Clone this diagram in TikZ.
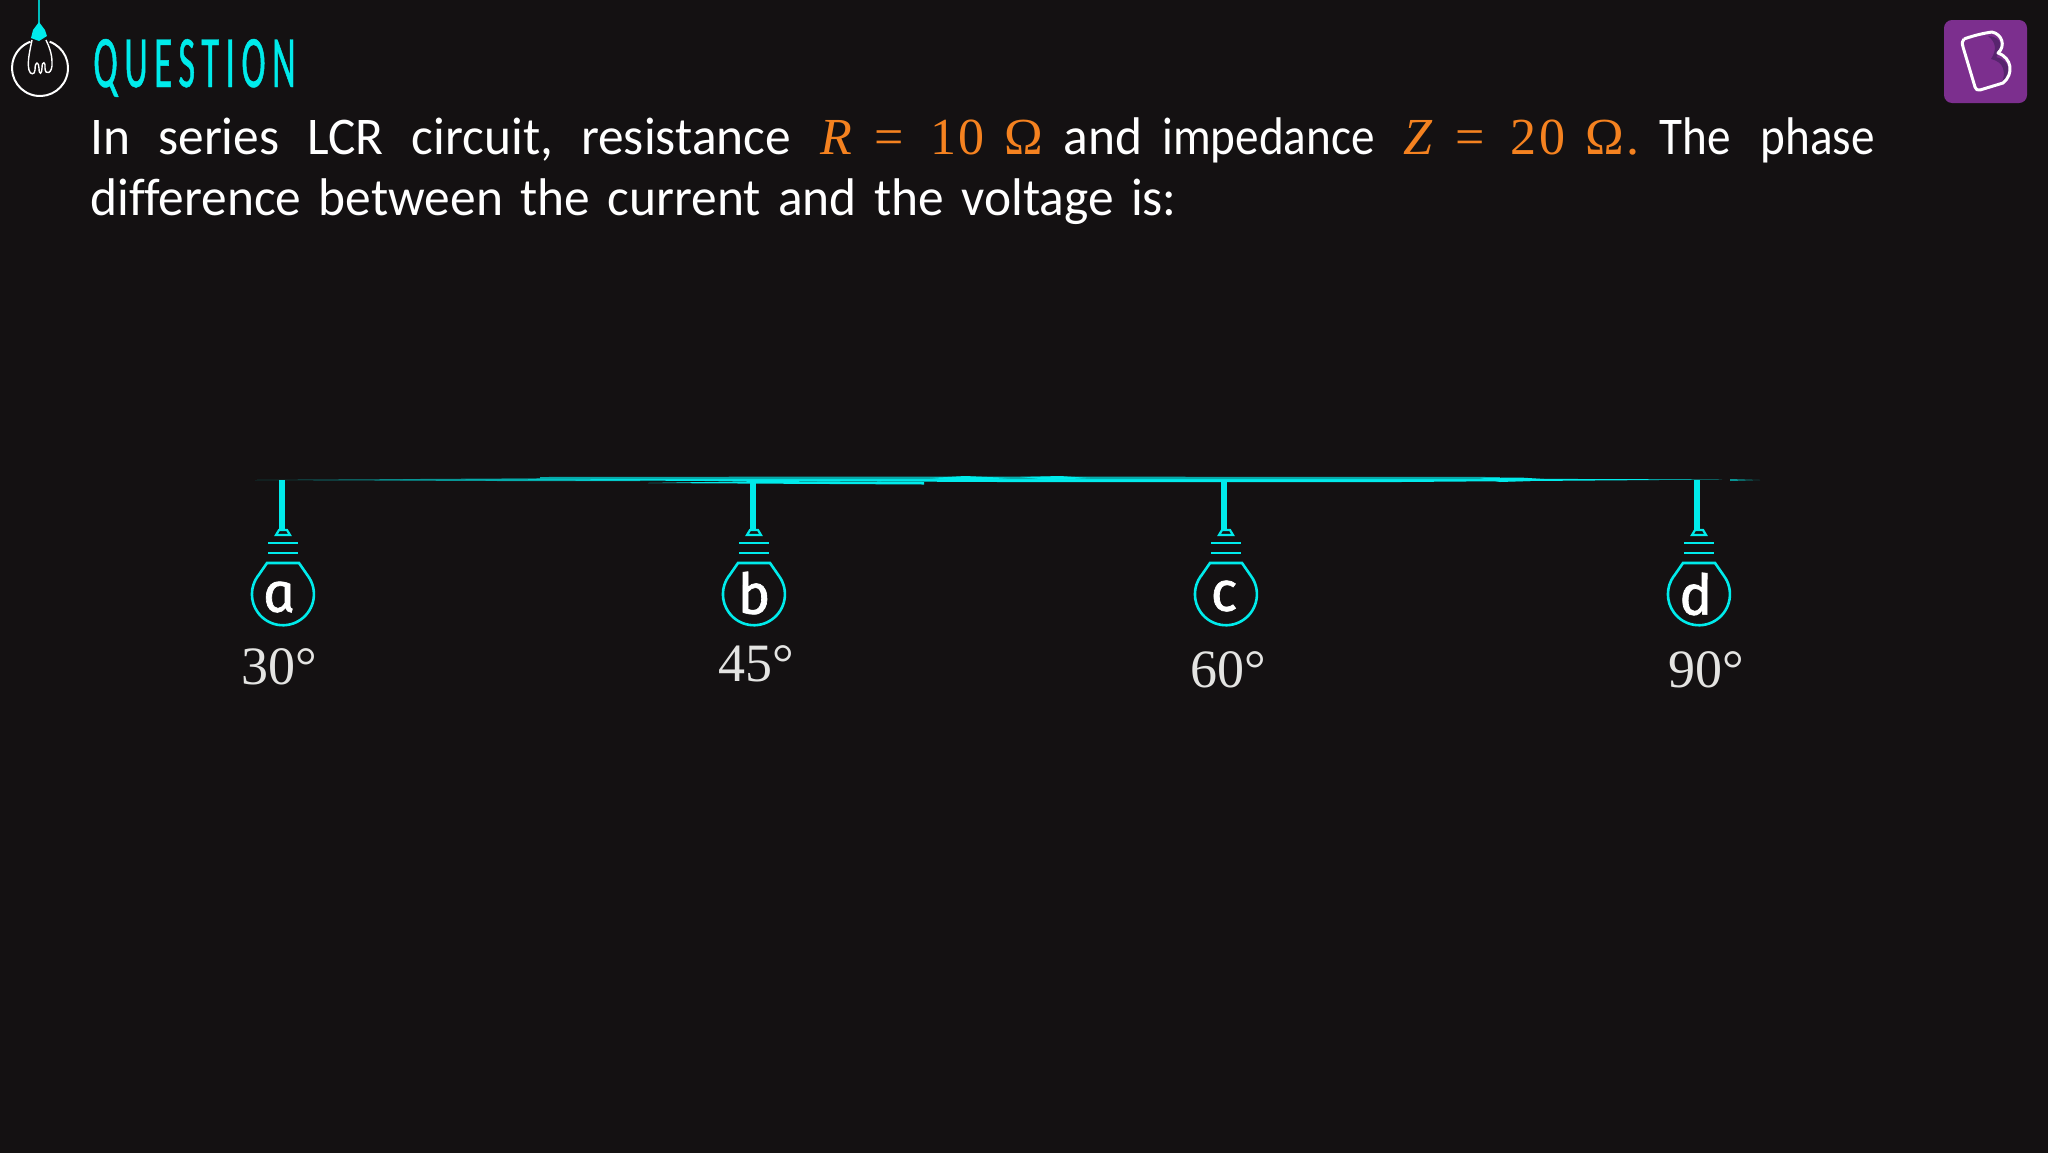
\documentclass[tikz,border=0pt]{standalone}
\usepackage{fontspec}
\setmainfont{Carlito}
\newfontfamily\titlefont[FakeStretch=0.49,LetterSpace=9,FakeBold=0.6]{Carlito}
\newfontfamily\handfont[Ligatures=NoCommon,FakeStretch=0.97]{Carlito}
\newfontfamily\tallfont[FakeStretch=0.89]{Carlito}
\newfontfamily\lawfont[LetterSpace=5]{Liberation Serif}
\newfontfamily\anglefont{Liberation Serif}
\newfontfamily\choicefont[ItalicFeatures={FakeSlant=-0.14,FakeBold=1.2}]{Fira Sans}
\newcommand\wordgap[1]{\spaceskip=#1\relax}
\definecolor{slate}{HTML}{141112}
\definecolor{aqua}{HTML}{00EBEB}
\definecolor{amber}{HTML}{F58220}
\definecolor{violet}{HTML}{7C2F8E}
\definecolor{plum}{HTML}{57246E}
\definecolor{chalk}{HTML}{E4E4E2}
\tikzset{
  question/.style={anchor=base west,inner sep=0pt,text=white,font=\handfont\fontsize{26.5}{30}\selectfont\wordgap{14pt}},
  law/.style={anchor=base west,inner sep=0pt,text=amber,font=\lawfont\fontsize{26}{30}\selectfont},
  choice/.style={inner sep=0pt,text=white,font=\choicefont\itshape\fontsize{28}{32}\selectfont},
  angle/.style={anchor=base,inner sep=0pt,text=chalk,font=\anglefont\fontsize{27}{32}\selectfont},
  rod/.style={draw=aqua,line width=3pt},
  wire/.style={draw=aqua,line width=1.3pt},
  lamp/.pic={
    \draw[wire,line width=1.1pt] (-7,-59) -- (-4,-64) -- (4,-64) -- (7,-59) -- cycle;
    \draw[wire] (-15,-51) -- (15,-51);
    \draw[wire] (-15,-41) -- (15,-41);
    \draw[wire] (-25,-18) -- (-16,-31) -- (16,-31) -- (25,-18) arc [start angle=-36,end angle=216,radius=31];
  }
}
\begin{document}
\begin{tikzpicture}[x=0.5pt,y=-0.5pt]
\useasboundingbox (0,0) rectangle (2048,1152);
\fill[slate] (-6,-6) rectangle (2054,1158);

% heading
\draw[aqua!80!black,line width=1pt] (39,0) -- (39,24);
\draw[white,line width=1pt] (49.6,41.7) arc [start angle=-70,end angle=250,radius=28];
\draw[white,line width=0.7pt] (32,40) .. controls (30,50) and (27,62) .. (29,70) .. controls (30,75) and (35,75) .. (35,70) .. controls (35,60) and (39,62) .. (39,68) .. controls (39,76) and (42,74) .. (42,68) .. controls (42,60) and (46,62) .. (45,68) .. controls (45,76) and (53,74) .. (52,62) .. controls (52,54) and (49,46) .. (46,40);
\fill[aqua] (33,30) -- (39,22) -- (45,30) -- (47,36) -- (39,41) -- (31,38) -- cycle;
\node[anchor=base west,inner sep=0pt,text=aqua,font=\titlefont\fontsize{37}{40}\selectfont] (title) at (93,87) {QUESTION};

% logo
\fill[violet,rounded corners=4pt] (1944,20) rectangle (2027,103);
\fill[plum] (1988,36) .. controls (2002,36) and (2005,50) .. (1996,57) .. controls (2010,60) and (2013,75) .. (2002,83) .. controls (2006,72) and (2004,62) .. (1991,59) .. controls (1997,50) and (1996,42) .. (1988,36);
\draw[white,line width=1.5pt,line join=round] (1964,39) .. controls (1975,35) and (1985,33) .. (1992,32) .. controls (2002,34) and (2006,46) .. (1998,53) .. controls (2012,58) and (2014,74) .. (2003,83) -- (1980,90) .. controls (1977,91) and (1976,89) .. (1975,87) -- (1963,47) .. controls (1962,43) and (1962,41) .. (1964,39);

% question text
\node[question] (line one) at (90,154) {In series LCR circuit, resistance};
\node[law] (first law) at (820,154) {\textit{R}\hspace{10pt}=\hspace{13pt}10\hspace{10pt}Ω};
\node[question] (and word) at (1063,154) {and};
\node[question,font=\tallfont\fontsize{26.5}{30}\selectfont] (impedance word) at (1162,154) {impedance};
\node[law] (second law) at (1403,154) {\textit{Z}\hspace{10pt}=\hspace{13pt}20\hspace{10pt}Ω.};
\node[question,font=\tallfont\fontsize{26.5}{30}\selectfont\wordgap{15pt}] (phase words) at (1659,154) {The phase};
\node[question,font=\handfont\fontsize{26.5}{30}\selectfont\wordgap{8.7pt}] (line two) at (90,215) {difference between the current and the voltage is:};

% rail
\coordinate (rail a) at (282,480);
\coordinate (rail b) at (753,480);
\coordinate (rail c) at (1224,480);
\coordinate (rail d) at (1697,480);
\fill[aqua!55!slate] (255,480) -- (500,478.5) -- (640,477.5) -- (640,481) -- (500,481) -- cycle;
\fill[aqua] (400,480) -- (900,478) -- (1300,478) -- (1722,479.5) -- (1400,482) -- (1000,482) -- (760,481) -- cycle;
\fill[aqua!70!slate] (540,477) -- (900,476.5) -- (1500,477) -- (1500,479) -- (540,479) -- cycle;
\fill[aqua] (648,483) -- (760,481) -- (924,482) -- (924,484.5) -- cycle;
\fill[aqua] (930,478) -- (965,476) -- (1010,478) -- (965,481) -- cycle;
\fill[aqua] (1020,477) -- (1060,476) -- (1090,478) -- (1050,480) -- cycle;
\fill[aqua] (1480,478) -- (1520,477.5) -- (1560,480) -- (1500,482) -- cycle;
\fill[aqua!60!slate] (1730,479) -- (1760,480) -- (1730,481) -- cycle;

% bulbs
\coordinate (neck a) at (282,530);
\coordinate (neck b) at (753,530);
\coordinate (neck c) at (1224,530);
\coordinate (neck d) at (1697,530);
\draw[rod] (rail a) -- (neck a);
\draw[rod] (rail b) -- (neck b);
\draw[rod] (rail c) -- (neck c);
\draw[rod] (rail d) -- (neck d);
\pic at (283,594) {lamp};
\pic at (754,594) {lamp};
\pic at (1226,594) {lamp};
\pic at (1699,594) {lamp};
\node[choice] (a) at (281,597) {a};
\node[choice] (b) at (756,593) {b};
\node[choice] (c) at (1226,596) {c};
\node[choice] (d) at (1698,594) {d};

% angles
\node[angle] (angle a) at (279,684) {30°};
\node[angle] (angle b) at (756,681) {45°};
\node[angle] (angle c) at (1228,687) {60°};
\node[angle] (angle d) at (1706,687) {90°};
\end{tikzpicture}
\end{document}
